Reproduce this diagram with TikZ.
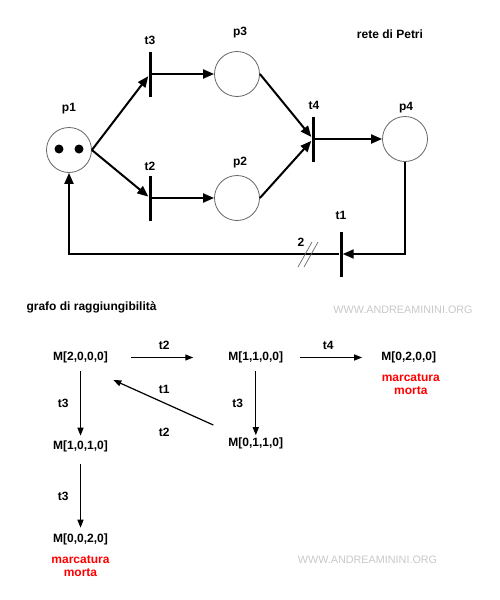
\documentclass[tikz,border=0pt]{standalone}
\usepackage{fontspec}
\setmainfont{Liberation Sans}
\usetikzlibrary{positioning,arrows.meta,calc}
\definecolor{mred}{HTML}{FF0000}
\definecolor{wmgray}{HTML}{C8C8C8}

\begin{document}
\begin{tikzpicture}[x=1pt, y=-1pt,
    every node/.style={font=\fontsize{12}{13}\selectfont\bfseries},
    place/.style={circle, draw=black!60, line width=0.8pt, minimum size=45pt, inner sep=0pt},
    tok/.style={circle, fill=black, minimum size=9pt, inner sep=0pt},
    trans/.style={rectangle, fill=black, minimum width=3pt, minimum height=45pt, inner sep=0pt},
    parc/.style={-{Triangle[length=11pt,width=9pt]}, line width=2pt},
    rarrow/.style={-{Triangle[length=8pt,width=6pt]}, line width=1.2pt},
    mstate/.style={inner sep=0pt},
    dead/.style={text=mred, align=center},
    wmark/.style={text=wmgray, font=\fontsize{10.8}{12}\selectfont}
  ]
    \useasboundingbox (0,0) rectangle (500,600);

    % Petri net: places
    \node[place] (p1) at (69,150) {};
    \node[place] (p3) at (237,74) {};
    \node[place] (p2) at (237,198) {};
    \node[place] (p4) at (405,139) {};
    \node[tok] (k1) at ($(p1)+(-10,-1)$) {};
    \node[tok] (k2) at ($(p1)+(10,-1)$) {};

    % transitions
    \node[trans] (t3) at (150,74) {};
    \node[trans] (t2) at (150,198) {};
    \node[trans] (t4) at (313,139) {};
    \node[trans] (t1) at (341,254) {};

    % labels
    \node (p1-lbl) at (69,109) {p1};
    \node (p3-lbl) at (240,33) {p3};
    \node (p2-lbl) at (240,163) {p2};
    \node (p4-lbl) at (406,108) {p4};
    \node (t3-lbl) at (150,40) {t3};
    \node (t2-lbl) at (150,166) {t2};
    \node (t4-lbl) at (314,105) {t4};
    \node (t1-lbl) at (341,215) {t1};
    \node (w-lbl) at (301,242) {2};
    \node (title) at (390,34) {rete di Petri};

    % arcs
    \draw[parc] (p1.east) -- (t3);
    \draw[parc] (p1.east) -- (t2);
    \draw[parc] (t3) -- (p3);
    \draw[parc] (t2) -- (p2);
    \draw[parc] (p3.east) -- (t4);
    \draw[parc] (p2.east) -- (t4);
    \draw[parc] (t4) -- (p4);
    \draw[parc] (p4.south) |- (t1);
    \draw[parc] (t1) -| (p1.south);

    % weight mark on the arc t1 -> p1
    \coordinate (w) at (301,254);
    \draw[black!60, line width=0.7pt] ($(w)+(-3,13)$) -- ($(w)+(11,-12)$);
    \draw[black!60, line width=0.7pt] ($(w)+(3,13)$) -- ($(w)+(17,-12)$);

    % Reachability graph
    \node[anchor=west] (g-title) at (23,307) {grafo di raggiungibilit\`a};
    \node[wmark] (wm1) at (403,310) {WWW.ANDREAMININI.ORG};

    \node[mstate] (m2000) at (80.5,357.5) {M[2,0,0,0]};
    \node[mstate] (m1100) at (255.8,357.5) {M[1,1,0,0]};
    \node[mstate] (m0200) at (408.7,357.5) {M[0,2,0,0]};
    \node[mstate] (m1010) at (80.5,446.5) {M[1,0,1,0]};
    \node[mstate] (m0110) at (255.8,443) {M[0,1,1,0]};
    \node[mstate] (m0020) at (80.5,539.5) {M[0,0,2,0]};

    \node[dead] (dead1) at (410.8,384) {marcatura\\morta};
    \node[dead] (dead2) at (80.5,566.5) {marcatura\\morta};
    \node[wmark] (wm2) at (367.5,560) {WWW.ANDREAMININI.ORG};

    \draw[rarrow, shorten <=23pt, shorten >=35pt] (m2000) -- (m1100);
    \draw[rarrow, shorten <=17pt, shorten >=19pt] (m1100) -- (m0200);
    \draw[rarrow, shorten <=8pt, shorten >=5pt] (m2000) -- (m1010);
    \draw[rarrow, shorten <=8pt, shorten >=2pt] (m1100) -- (m0110);
    \draw[rarrow, shorten <=12pt, shorten >=6pt] (m1010) -- (m0020);
    \draw[rarrow] ($(m0110)+(-42.5,-18)$) -- ($(m2000)+(32.8,22.5)$);

    \node (e-t2a) at (164.3,345) {t2};
    \node (e-t4) at (328.3,345) {t4};
    \node (e-t3a) at (63.3,403) {t3};
    \node (e-t3b) at (237.7,403) {t3};
    \node (e-t1) at (164.3,389) {t1};
    \node (e-t2b) at (164.3,432) {t2};
    \node (e-t3c) at (63.3,496.7) {t3};
\end{tikzpicture}
\end{document}
